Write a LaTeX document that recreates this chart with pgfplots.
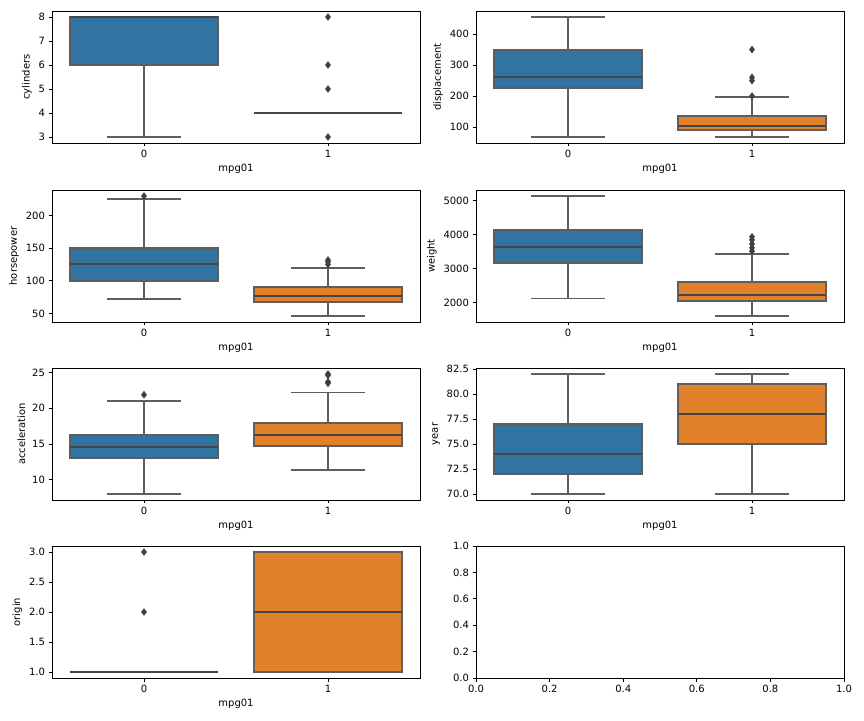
\documentclass[border=0pt]{standalone}
\usepackage{fontspec}
\setmainfont{DejaVu Sans}
\usepackage{pgfplots}
\pgfplotsset{compat=1.18}
\usepgfplotslibrary{statistics}
\definecolor{sbblue}{HTML}{3274A1}
\definecolor{sborange}{HTML}{E1812C}
\definecolor{sbgray}{HTML}{5E5E5E}
\definecolor{sbdark}{HTML}{3F3F3F}
\pgfplotsset{
  mpl/.style={
    scale only axis, width=368pt, height=132pt,
    font=\fontsize{10}{12}\selectfont,
    /pgf/number format/assume math mode=true,
    /pgf/number format/1000 sep={},
    scaled ticks=false,
    tick align=outside, major tick length=3.5pt, tick pos=left,
    every tick/.style={black, line width=0.8pt},
    axis line style={line width=0.8pt},
    anchor=south west,
  },
  cat/.style={mpl, xmin=-0.5, xmax=1.5, xtick={0,1}, xlabel={mpg01}},
  bx/.style={boxplot/draw direction=y, draw=sbgray, line width=1.8pt, fill=#1,
    boxplot/every box/.style={draw=sbgray, line width=2.0pt, fill=#1},
    boxplot/every median/.style={draw=sbdark!80!sbgray, line width=2.0pt},
    boxplot/every whisker/.style={draw=sbgray, line width=1.8pt}},
  outl/.style={only marks, mark=diamond*, mark size=3.4pt, mark options={fill=sbdark, draw=sbdark, line width=0.5pt}},
}
\begin{document}
\begin{tikzpicture}
\path[use as bounding box] (0,0) rectangle (864pt,720pt);
% cylinders
\begin{axis}[cat, at={(52pt,577pt)}, ymin=2.75, ymax=8.25, ytick={3,4,5,6,7,8}, ylabel={cylinders}]
\addplot[bx=sbblue, boxplot prepared={draw position=0, lower whisker=3, lower quartile=6, median=8, upper quartile=8, upper whisker=8, box extend=0.8, whisker extend=0.4}] coordinates {};
\addplot[bx=sborange, boxplot prepared={draw position=1, lower whisker=4, lower quartile=4, median=4, upper quartile=4, upper whisker=4, box extend=0.8, whisker extend=0.4}] coordinates {};
\addplot[outl] coordinates {(1,3) (1,5) (1,6) (1,8)};
\end{axis}
% displacement
\begin{axis}[cat, at={(476pt,577pt)}, ymin=48.6, ymax=474.4, ytick={100,200,300,400}, ylabel={displacement}]
\addplot[bx=sbblue, boxplot prepared={draw position=0, lower whisker=68, lower quartile=225, median=261, upper quartile=350, upper whisker=455, box extend=0.8, whisker extend=0.4}] coordinates {};
\addplot[bx=sborange, boxplot prepared={draw position=1, lower whisker=68, lower quartile=91, median=105, upper quartile=134.5, upper whisker=198, box extend=0.8, whisker extend=0.4}] coordinates {};
\addplot[outl] coordinates {(1,200) (1,250) (1,260) (1,350)};
\end{axis}
% horsepower
\begin{axis}[cat, at={(52pt,398pt)}, ymin=36.8, ymax=239.2, ytick={50,100,150,200}, ylabel={horsepower}]
\addplot[bx=sbblue, boxplot prepared={draw position=0, lower whisker=72, lower quartile=100, median=125, upper quartile=150, upper whisker=225, box extend=0.8, whisker extend=0.4}] coordinates {};
\addplot[bx=sborange, boxplot prepared={draw position=1, lower whisker=46, lower quartile=67, median=76.5, upper quartile=90, upper whisker=120, box extend=0.8, whisker extend=0.4}] coordinates {};
\addplot[outl] coordinates {(0,230) (1,125) (1,129) (1,132)};
\end{axis}
% weight
\begin{axis}[cat, at={(476pt,398pt)}, ymin=1437, ymax=5316, ytick={2000,3000,4000,5000}, ylabel={weight}]
\addplot[bx=sbblue, boxplot prepared={draw position=0, lower whisker=2125, lower quartile=3160, median=3630, upper quartile=4155, upper whisker=5140, box extend=0.8, whisker extend=0.4}] coordinates {};
\addplot[bx=sborange, boxplot prepared={draw position=1, lower whisker=1613, lower quartile=2040, median=2216, upper quartile=2600, upper whisker=3430, box extend=0.8, whisker extend=0.4}] coordinates {};
\addplot[outl] coordinates {(1,3520) (1,3620) (1,3730) (1,3850) (1,3940)};
\end{axis}
% acceleration
\begin{axis}[cat, at={(52pt,220pt)}, ymin=7.16, ymax=25.64, ytick={10,15,20,25}, ylabel={acceleration}]
\addplot[bx=sbblue, boxplot prepared={draw position=0, lower whisker=8.0, lower quartile=13.1, median=14.6, upper quartile=16.3, upper whisker=21.0, box extend=0.8, whisker extend=0.4}] coordinates {};
\addplot[bx=sborange, boxplot prepared={draw position=1, lower whisker=11.4, lower quartile=14.7, median=16.3, upper quartile=18.0, upper whisker=22.2, box extend=0.8, whisker extend=0.4}] coordinates {};
\addplot[outl] coordinates {(0,21.9) (1,23.5) (1,23.7) (1,24.6) (1,24.8)};
\end{axis}
% year
\begin{axis}[cat, at={(476pt,220pt)}, ymin=69.4, ymax=82.6, ytick={70,72.5,75,77.5,80,82.5}, ylabel={year},
  yticklabel style={/pgf/number format/.cd, fixed, fixed zerofill, precision=1}]
\addplot[bx=sbblue, boxplot prepared={draw position=0, lower whisker=70, lower quartile=72, median=74, upper quartile=77, upper whisker=82, box extend=0.8, whisker extend=0.4}] coordinates {};
\addplot[bx=sborange, boxplot prepared={draw position=1, lower whisker=70, lower quartile=75, median=78, upper quartile=81, upper whisker=82, box extend=0.8, whisker extend=0.4}] coordinates {};
\end{axis}
% origin
\begin{axis}[cat, at={(52pt,42pt)}, ymin=0.9, ymax=3.1, ytick={1,1.5,2,2.5,3}, ylabel={origin},
  yticklabel style={/pgf/number format/.cd, fixed, fixed zerofill, precision=1}]
\addplot[bx=sbblue, boxplot prepared={draw position=0, lower whisker=1, lower quartile=1, median=1, upper quartile=1, upper whisker=1, box extend=0.8, whisker extend=0.4}] coordinates {};
\addplot[bx=sborange, boxplot prepared={draw position=1, lower whisker=1, lower quartile=1, median=2, upper quartile=3, upper whisker=3, box extend=0.8, whisker extend=0.4}] coordinates {};
\addplot[outl] coordinates {(0,2) (0,3)};
\end{axis}
% empty
\begin{axis}[mpl, at={(476pt,42pt)}, xmin=0, xmax=1, ymin=0, ymax=1,
  xtick={0,0.2,0.4,0.6,0.8,1}, ytick={0,0.2,0.4,0.6,0.8,1},
  xticklabel style={/pgf/number format/.cd, fixed, fixed zerofill, precision=1},
  yticklabel style={/pgf/number format/.cd, fixed, fixed zerofill, precision=1}]
\end{axis}
\end{tikzpicture}
\end{document}
